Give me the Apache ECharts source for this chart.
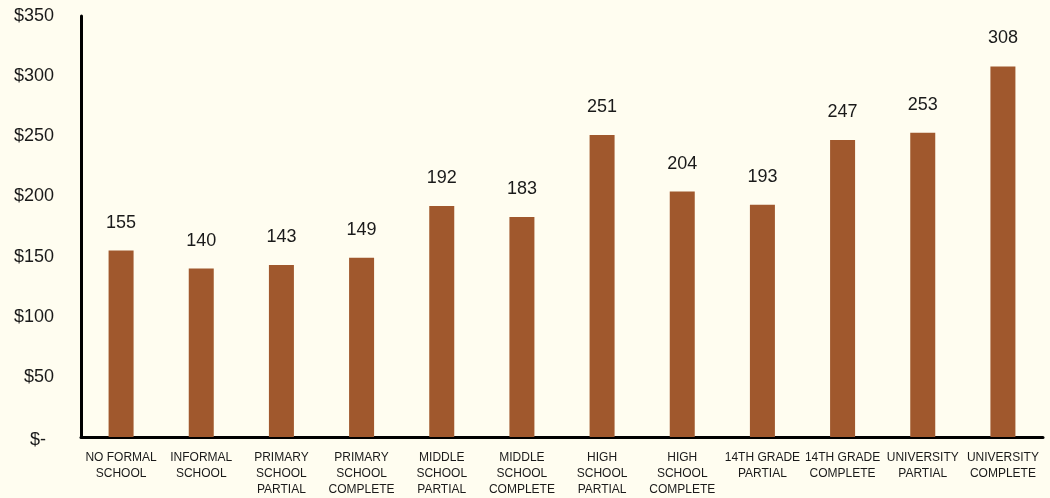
<!DOCTYPE html>
<html>
<head>
<meta charset="utf-8">
<script src="https://cdn.jsdelivr.net/npm/echarts@6/dist/echarts.min.js"></script>
<style>
  html, body { margin: 0; padding: 0; background: #FFFDF0; }
  #chart { width: 1050px; height: 498px; }
</style>
</head>
<body>
<div id="chart"></div>
<script>
// Education levels on the category axis
const categories = [
  'NO FORMAL\nSCHOOL', 'INFORMAL\nSCHOOL', 'PRIMARY\nSCHOOL\nPARTIAL', 'PRIMARY\nSCHOOL\nCOMPLETE',
  'MIDDLE\nSCHOOL\nPARTIAL', 'MIDDLE\nSCHOOL\nCOMPLETE', 'HIGH\nSCHOOL\nPARTIAL', 'HIGH\nSCHOOL\nCOMPLETE',
  '14TH GRADE\nPARTIAL', '14TH GRADE\nCOMPLETE', 'UNIVERSITY\nPARTIAL', 'UNIVERSITY\nCOMPLETE'
];
// Dollar amount per education level
const values = [155, 140, 143, 149, 192, 183, 251, 204, 193, 247, 253, 308];
// Value axis range and step
const yMin = 0;
const yMax = 350;
const yStep = 50;

const chart = echarts.init(document.getElementById('chart'));
chart.setOption({
  backgroundColor: '#FFFDF0',
  animation: false,
  grid: { left: 81, right: 7, top: 16, bottom: 61, containLabel: false },
  xAxis: {
    type: 'category',
    data: categories,
    axisLine: { show: true, lineStyle: { color: '#000', width: 3 } },
    axisTick: { show: false },
    axisLabel: {
      interval: 0,
      margin: 13,
      color: '#1a1a1a',
      fontFamily: 'Liberation Sans, Arial, sans-serif',
      fontSize: 12,
      lineHeight: 16
    }
  },
  yAxis: {
    type: 'value',
    min: yMin,
    max: yMax,
    interval: yStep,
    splitLine: { show: false },
    axisLine: { show: true, lineStyle: { color: '#000', width: 3 } },
    axisTick: { show: false },
    axisLabel: {
      margin: 27,
      color: '#1a1a1a',
      fontFamily: 'Liberation Sans, Arial, sans-serif',
      fontSize: 18,
      // accounting-style zero: dash, indented from the right edge
      formatter: v => v === 0 ? '{z|$-}' : '$' + v,
      rich: {
        z: {
          fontFamily: 'Liberation Sans, Arial, sans-serif',
          fontSize: 18,
          color: '#1a1a1a',
          padding: [6, 8, 0, 0]
        }
      }
    }
  },
  series: [{
    type: 'bar',
    data: values,
    barWidth: 25,
    itemStyle: { color: '#A0582D' },
    label: {
      show: true,
      position: 'top',
      distance: 19,
      color: '#1a1a1a',
      fontFamily: 'Liberation Sans, Arial, sans-serif',
      fontSize: 18
    }
  }]
});
</script>
</body>
</html>
